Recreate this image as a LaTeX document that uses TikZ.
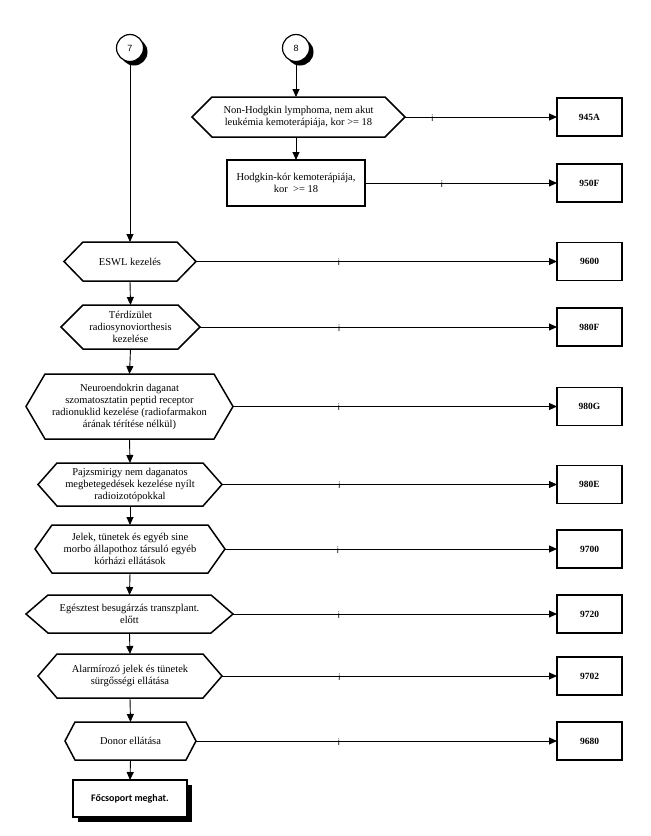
\documentclass[tikz,border=0pt]{standalone}
\usepackage{fontspec}
\setmainfont{Liberation Serif}
\newfontfamily\carl{Carlito}
\newfontfamily\arialf{Liberation Sans}
\usetikzlibrary{calc,arrows.meta}
\newcommand\hexbox[7]{%
  % #1 name, #2 cx, #3 cy, #4 half width, #5 half height, #6 slant, #7 text
  \node[hexnode, minimum width=2*#4pt, minimum height=2*#5pt] (#1) at (#2,#3) {#7};
  \draw[boxline] (#1.west) -- ($(#1.north west)+(#6,0)$) -- ($(#1.north east)+(-#6,0)$)
    -- (#1.east) -- ($(#1.south east)+(-#6,0)$) -- ($(#1.south west)+(#6,0)$) -- cycle;
}
\begin{document}
\begin{tikzpicture}[x=1pt,y=-1pt,
  boxline/.style={line width=1.5pt, line join=miter},
  hexnode/.style={inner sep=0pt, outer sep=0pt, align=center, font=\fontsize{10.5}{12}\selectfont},
  rbox/.style={draw, line width=1.5pt, minimum width=65pt, minimum height=38pt, inner sep=0pt, outer sep=0pt, font=\fontsize{9.5}{11}\selectfont\bfseries},
  conn/.style={line width=0.9pt, -{Triangle[length=8pt,width=7pt]}},
  hline/.style={line width=0.9pt, -{Triangle[length=8pt,width=7pt]}},
  ilabel/.style={font=\arialf\fontsize{9}{9}\selectfont, text=black, inner sep=0pt, yshift=-1pt},
  conncirc/.style={circle, draw, fill=white, line width=1.2pt, minimum size=27pt, inner sep=0pt, font=\arialf\fontsize{9}{10}\selectfont}
]
\useasboundingbox (0,0) rectangle (651,836);

% connector circles
\fill[black] (134,52) circle (13.5pt);
\node[conncirc] (c7) at (130,48) {7};
\fill[black] (300,52) circle (13.5pt);
\node[conncirc] (c8) at (296,48) {8};

% top branch
\hexbox{nh}{298.5}{117}{106.5}{20}{20}{Non-Hodgkin lymphoma, nem akut\\leukémia kemoterápiája, kor >= 18}
\node[draw, line width=1.5pt, minimum width=138pt, minimum height=46pt, inner sep=0pt, outer sep=0pt, align=center, font=\fontsize{10.5}{12}\selectfont] (hod) at (296,183) {Hodgkin-kór kemoterápiája,\\kor \ >= 18};

% main column
\hexbox{esw}{130}{261.5}{66}{19.5}{19}{ESWL kezelés}
\hexbox{ter}{130.5}{327}{69.5}{22}{22}{Térdízület\\radiosynoviorthesis\\kezelése}
\hexbox{neu}{129.5}{406.5}{103.5}{32.5}{19}{Neuroendokrin daganat\\szomatosztatin peptid receptor\\radionuklid kezelése (radiofarmakon\\árának térítése nélkül)}
\hexbox{paj}{130}{484.5}{92}{21.5}{19}{Pajzsmirigy nem daganatos\\megbetegedések kezelése nyílt\\radioizotópokkal}
\hexbox{jel}{130}{549}{95}{24}{17}{Jelek, tünetek és egyéb sine\\morbo állapothoz társuló egyéb\\kórházi ellátások}
\hexbox{ege}{129.5}{614}{103.5}{19}{22}{Egésztest besugárzás transzplant.\\előtt}
\hexbox{ala}{130}{676}{92}{22}{19}{Alarmírozó jelek és tünetek\\sürgősségi ellátása}
\hexbox{don}{130.5}{741}{65.5}{19}{10}{Donor ellátása}

% final box with shadow
\fill[black] (78,785) rectangle (192,822);
\node[draw, fill=white, line width=1.5pt, minimum width=114pt, minimum height=37pt, inner sep=0pt, outer sep=0pt, font=\carl\bfseries\fontsize{10}{12}\selectfont] (fo) at (130,798.5) {Főcsoport meghat.};

% right boxes
\node[rbox] (r945a) at (589.5,117) {945A};
\node[rbox] (r950f) at (589.5,183) {950F};
\node[rbox] (r9600) at (589.5,261.5) {9600};
\node[rbox] (r980f) at (589.5,327) {980F};
\node[rbox] (r980g) at (589.5,406.5) {980G};
\node[rbox] (r980e) at (589.5,484.5) {980E};
\node[rbox] (r9700) at (589.5,549) {9700};
\node[rbox] (r9720) at (589.5,614) {9720};
\node[rbox] (r9702) at (589.5,676) {9702};
\node[rbox] (r9680) at (589.5,741) {9680};

% vertical connectors
\draw[conn] (c7) -- (esw.north);
\draw[conn] (c8) -- (c8 |- nh.north);
\draw[conn] (c8 |- nh.south) -- (hod.north);
\draw[conn] (esw.south) -- (ter.north);
\draw[conn] (ter.south) -- (neu.north);
\draw[conn] (neu.south) -- (paj.north);
\draw[conn] (paj.south) -- (jel.north);
\draw[conn] (jel.south) -- (ege.north);
\draw[conn] (ege.south) -- (ala.north);
\draw[conn] (ala.south) -- (don.north);
\draw[conn] (don.south) -- (fo.north);

% horizontal connectors
\draw[hline] (nh.east) -- node[ilabel, pos=0.18] {i} (r945a.west);
\draw[hline] (hod.east) -- node[ilabel, pos=0.40] {i} (r950f.west);
\draw[hline] (esw.east) -- node[ilabel, pos=0.396] {i} (r9600.west);
\draw[hline] (ter.east) -- node[ilabel, pos=0.39] {i} (r980f.west);
\draw[hline] (neu.east) -- node[ilabel, pos=0.327] {i} (r980g.west);
\draw[hline] (paj.east) -- node[ilabel, pos=0.35] {i} (r980e.west);
\draw[hline] (jel.east) -- node[ilabel, pos=0.34] {i} (r9700.west);
\draw[hline] (ege.east) -- node[ilabel, pos=0.327] {i} (r9720.west);
\draw[hline] (ala.east) -- node[ilabel, pos=0.35] {i} (r9702.west);
\draw[hline] (don.east) -- node[ilabel, pos=0.396] {i} (r9680.west);
\end{tikzpicture}
\end{document}
